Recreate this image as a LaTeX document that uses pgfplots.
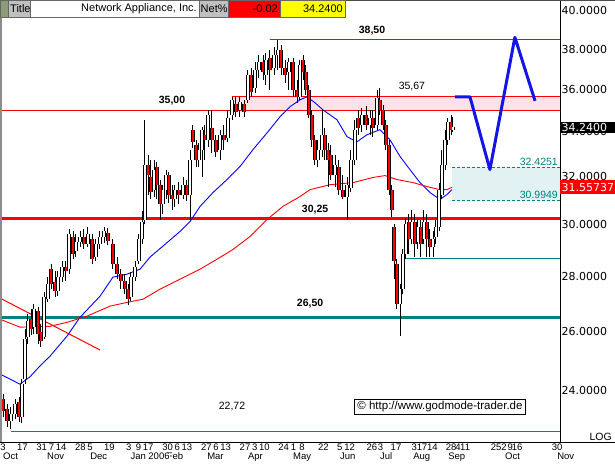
\documentclass[border=0pt]{standalone}
\usepackage{pgfplots}
\pgfplotsset{compat=1.18}
\usepackage{pgfplotstable}
\usepackage{fontspec}
\setmainfont{Liberation Sans}
\newfontfamily\dejavu{DejaVu Sans}
\definecolor{teal2}{RGB}{0,128,128}
\definecolor{pinkband}{RGB}{255,226,232}
\definecolor{cyanband}{RGB}{226,242,242}
\definecolor{projblue}{RGB}{20,20,230}
\definecolor{olivebox}{RGB}{140,156,116}
\definecolor{graybox}{RGB}{192,192,192}
\definecolor{yellowbox}{RGB}{255,255,0}

\pgfplotstableread{
d o h l c
0.0 23.74 23.90 23.17 23.37
2.1 23.43 23.58 22.87 23.05
4.1 23.05 23.49 22.81 23.27
6.2 23.27 23.74 23.11 23.58
8.3 23.64 23.80 23.02 23.17
9.8 23.17 24.39 22.99 24.22
11.4 24.39 26.08 24.22 25.73
12.9 25.80 26.61 25.56 26.36
14.5 26.43 26.79 25.87 26.08
16.0 26.15 26.97 25.90 26.79
18.1 26.72 26.86 25.56 25.90
19.6 25.98 26.25 25.46 25.66
21.2 25.80 27.41 25.73 27.22
23.2 27.15 27.97 27.04 27.70
24.8 28.27 28.46 27.52 27.70
26.9 27.78 28.19 27.22 27.45
28.4 27.45 28.19 27.26 27.97
30.5 27.97 28.57 27.78 28.35
32.5 28.35 28.57 27.82 28.19
34.1 28.27 29.82 28.08 29.62
36.2 29.51 29.74 28.65 28.84
37.7 28.95 29.62 28.73 29.31
39.8 29.31 29.74 29.11 29.51
41.8 29.51 29.82 29.03 29.23
43.9 29.23 29.90 29.11 29.62
46.0 29.43 29.62 28.46 28.65
48.0 28.73 29.43 28.57 29.23
50.1 29.23 29.74 29.03 29.51
52.2 29.51 29.90 29.27 29.74
54.2 29.66 29.86 29.19 29.35
56.8 29.23 29.43 28.27 28.46
58.9 28.46 28.73 27.89 28.08
60.9 28.08 28.27 27.52 27.82
63.0 27.82 28.08 27.33 27.52
64.6 27.52 27.70 26.93 27.15
66.1 27.22 28.16 27.08 27.97
68.2 27.97 28.57 27.82 28.35
70.2 28.57 29.62 28.46 29.43
71.8 29.43 30.55 29.23 30.14
73.3 30.22 34.56 30.02 32.54
74.9 32.54 32.98 31.25 32.10
76.4 31.98 32.76 31.05 31.38
78.0 31.46 32.76 31.17 32.32
79.5 32.41 32.67 31.05 31.67
81.1 31.67 31.89 30.22 30.84
82.6 30.84 31.67 30.43 31.46
84.2 31.46 32.32 31.05 32.10
85.7 32.10 32.23 30.92 31.25
87.3 31.25 31.67 30.63 31.05
88.8 31.05 31.67 30.72 31.46
90.9 31.46 31.80 30.84 31.25
93.0 31.25 31.98 31.05 31.67
95.0 31.67 31.89 30.97 31.25
96.6 31.25 33.20 30.22 32.76
98.1 34.10 34.33 33.29 33.55
99.7 33.42 33.64 32.45 32.76
101.2 32.76 33.51 32.45 33.20
102.8 33.20 34.24 32.02 34.10
104.3 33.87 34.33 32.76 33.64
105.9 33.64 35.02 33.33 34.79
107.9 34.19 35.02 33.07 33.64
110.0 33.64 33.87 32.85 33.11
112.1 33.20 34.10 32.76 33.87
114.1 33.87 34.33 33.20 33.64
116.2 33.73 35.02 33.55 34.65
118.3 34.79 35.64 34.56 35.50
120.3 35.31 35.64 34.70 34.93
122.4 35.02 35.64 34.70 35.40
124.5 35.31 35.50 34.70 34.93
126.5 35.50 36.95 35.36 36.70
128.1 36.70 37.05 35.64 35.88
130.2 36.08 37.35 35.84 36.95
132.2 36.95 37.71 36.56 37.35
134.3 37.35 37.71 36.46 36.85
135.8 36.70 37.81 36.22 37.45
137.9 37.55 37.96 35.98 36.95
140.0 37.05 38.12 36.70 37.71
142.0 37.71 38.50 36.95 37.96
143.6 37.96 38.22 36.70 37.05
145.7 37.05 37.45 36.32 36.70
147.7 36.85 37.55 35.98 37.35
149.8 37.35 37.55 35.64 35.98
151.9 35.98 36.46 35.36 35.64
153.4 35.64 37.45 35.50 37.20
155.0 37.45 37.71 36.46 36.85
156.5 36.85 37.20 35.74 35.98
158.0 35.98 36.22 34.65 34.79
159.6 34.79 35.02 33.33 33.64
161.1 33.64 33.87 32.54 32.76
162.7 32.76 33.64 32.41 33.20
164.8 33.20 35.02 32.85 33.87
166.3 33.87 34.19 32.76 33.20
167.9 33.20 33.51 31.59 32.76
169.4 32.98 33.42 31.89 32.10
171.5 32.10 32.98 31.59 32.54
173.5 32.41 32.76 31.25 31.46
175.6 31.46 32.10 31.05 31.17
177.7 31.17 31.98 30.22 31.67
179.7 31.55 33.20 31.38 32.76
181.8 32.76 34.56 32.54 34.10
183.4 34.65 35.02 33.87 34.19
185.4 34.33 35.12 34.01 34.79
187.5 34.79 35.21 34.10 34.33
189.6 34.33 35.02 33.87 34.65
191.1 34.65 35.02 33.78 34.19
193.2 34.33 35.98 34.10 35.60
194.7 35.50 36.08 34.79 35.02
196.3 35.02 35.26 34.10 34.33
197.8 34.33 34.56 33.20 33.42
199.4 33.42 33.64 31.25 31.46
200.9 31.46 31.67 30.34 30.63
202.0 29.90 30.02 27.89 28.57
203.5 28.46 28.65 26.79 26.97
205.1 26.97 27.70 25.84 27.52
206.6 27.52 29.03 27.33 28.84
208.1 28.84 30.30 28.65 30.02
209.7 30.14 30.43 28.84 29.43
211.2 29.43 30.63 29.23 30.14
212.8 30.14 30.43 28.73 29.23
214.3 29.31 30.22 29.03 29.90
215.9 29.90 30.22 28.73 29.23
217.4 29.43 30.63 29.23 30.14
219.0 30.14 30.43 28.73 29.43
220.5 29.43 29.82 28.73 29.11
222.1 29.11 29.74 28.73 29.43
223.6 29.51 30.22 29.23 29.90
225.2 29.90 31.76 29.74 31.46
226.7 31.25 33.20 31.05 32.54
228.3 32.54 34.10 32.32 33.64
229.8 33.64 34.65 33.42 34.47
231.4 34.47 34.79 33.87 34.10
232.4 34.10 34.70 34.01 34.24
}\candles

\pgfplotsset{candlepart/.style={only marks, mark size=0pt, mark options={draw=none, fill=none}}}

\begin{document}
\begin{tikzpicture}[x=1pt,y=1pt]
\path[use as bounding box] (0,-22) rectangle (615,442);
\begin{axis}[
  at={(0,0)}, anchor=south west,
  scale only axis, width=560pt, height=441pt,
  xmin=-1.55, xmax=287.7, ymin=22.41, ymax=40.54,
  ymode=log,
  axis line style={draw=none},
  major tick length=0pt,
  clip mode=individual,
  ytick={24,26,28,30,32,34,36,38,40},
  yticklabels={24.0000,26.0000,28.0000,30.0000,32.0000,34.0000,36.0000,38.0000,40.0000},
  yticklabel pos=right,
  yticklabel style={anchor=west, inner sep=0pt, xshift=1.5pt, font=\dejavu\fontsize{11}{13}\selectfont},
  xtick={0,10,20,25,30,40,45,55,65,70,75,85,90,95,105,110,115,125,130,135,145,150,154.5,165.5,174,179,190.5,195,203,213.8,217.7,221.8,231.5,235,238.7,254.7,258.8,262,265.6,286.2},
  xticklabels={3,17,31,7,14,28,5,19,3,9,17,30,6,13,27,6,13,27,3,10,24,1,8,22,5,12,26,3,17,31,7,14,28,4,11,25,2,9,16,30},
  xticklabel style={anchor=base, inner sep=0pt, yshift=-9pt, font=\fontsize{9.5}{11}\selectfont},
  /pgf/number format/assume math mode=true,
]
% bands
\addplot[draw=none, fill=pinkband, forget plot] coordinates {(118.3,35.00) (287.7,35.00) (287.7,35.67) (118.3,35.67)} -- cycle;
\addplot[draw=none, fill=cyanband, forget plot] coordinates {(231.9,30.9949) (287.7,30.9949) (287.7,32.4251) (231.9,32.4251)} -- cycle;
% horizontal levels
\addplot[red, line width=1pt] coordinates {(137.9,38.50) (287.7,38.50)};
\addplot[red, line width=1pt] coordinates {(118.3,35.67) (287.7,35.67)};
\addplot[red, line width=1.3pt] coordinates {(-1.55,35.00) (287.7,35.00)};
\addplot[red, line width=2.6pt] coordinates {(-1.55,30.25) (287.7,30.25)};
\addplot[teal2, line width=2.6pt] coordinates {(-1.55,26.50) (287.7,26.50)};
\addplot[teal2, line width=1pt] coordinates {(208.2,28.66) (287.7,28.66)};
\addplot[teal2, line width=1pt] coordinates {(4,22.72) (287.7,22.72)};
\addplot[teal2, line width=1pt, dash pattern=on 3pt off 2pt] coordinates {(231.9,32.4251) (287.7,32.4251)};
\addplot[teal2, line width=1pt, dash pattern=on 3pt off 2pt] coordinates {(231.9,30.9949) (287.7,30.9949)};
% trendline
\addplot[red, line width=1pt] coordinates {(-1.5,27.19) (50.1,25.36)};
% moving averages
\addplot[blue, line width=0.9pt] coordinates {
(-0.5,24.52) (8.8,24.22) (13.9,24.46) (19.1,24.82) (24.3,25.15) (33.1,25.84) (39.8,26.50)
(50.1,27.26) (56.8,27.97) (64.0,28.08) (70.8,28.27) (75.9,28.73) (83.7,29.23) (91.4,29.74)
(96.6,30.14) (101.8,30.76) (108.5,31.34) (115.7,31.89) (122.4,32.45) (129.1,33.20) (136.4,33.96)
(143.1,34.70) (148.2,35.17) (153.4,35.50) (157.0,35.64) (161.1,35.36) (165.3,35.02) (172.5,34.56)
(177.7,33.78) (182.8,33.55) (188.0,33.87) (194.7,34.10) (199.9,33.64) (205.1,32.89) (210.2,32.32)
(215.4,31.76) (220.5,31.34) (225.7,31.05) (229.3,31.25) (231.9,31.46)};
\addplot[red, line width=0.9pt] coordinates {
(-1.5,26.43) (8.8,26.15) (24.3,26.18) (33.1,26.32) (43.4,26.54) (55.3,26.90) (67.1,27.08)
(72.3,27.15) (81.1,27.52) (91.4,27.89) (101.8,28.27) (110.5,28.65) (118.8,29.03) (127.6,29.54)
(136.4,30.22) (144.6,30.76) (153.4,31.17) (158.6,31.46) (168.9,31.67) (180.8,31.76) (191.1,31.98)
(197.3,32.06) (203.5,31.89) (211.8,31.76) (219.0,31.59) (225.7,31.46) (229.3,31.46) (231.9,31.56)};
% candles: wicks
\addplot[candlepart, error bars/.cd, y dir=plus, y explicit, error mark=none,
  error bar style={black, line width=1pt}]
  table[x=d, y=l, y error expr={\thisrow{h}-\thisrow{l}}] {\candles};
% candle bodies outline
\addplot[candlepart, error bars/.cd, y dir=plus, y explicit, error mark=none,
  error bar style={black, line width=4.4pt}]
  table[x=d, y expr={min(\thisrow{o},\thisrow{c})}, y error expr={abs(\thisrow{c}-\thisrow{o})}] {\candles};
% up bodies
\addplot[candlepart, restrict expr to domain={\thisrow{c}-\thisrow{o}}{0:1000},
  error bars/.cd, y dir=plus, y explicit, error mark=none,
  error bar style={white, line width=2.4pt}]
  table[x=d, y=o, y error expr={\thisrow{c}-\thisrow{o}}] {\candles};
% down bodies
\addplot[candlepart, restrict expr to domain={\thisrow{o}-\thisrow{c}}{0.0001:1000},
  error bars/.cd, y dir=plus, y explicit, error mark=none,
  error bar style={red, line width=2.4pt}]
  table[x=d, y=c, y error expr={\thisrow{o}-\thisrow{c}}] {\candles};
% projection
\addplot[projblue, line width=3pt, line join=round] coordinates {(233.4,35.64) (241.2,35.64) (251.5,32.32) (264.4,38.61) (274.8,35.45)};
% annotations
\node[anchor=south, font=\bfseries\fontsize{10.5}{12}\selectfont, yshift=1pt] at (axis cs:190.6,38.50) {38,50};
\node[anchor=south, font=\bfseries\fontsize{10.5}{12}\selectfont, yshift=2pt] at (axis cs:87.3,35.00) {35,00};
\node[anchor=south, font=\fontsize{10.5}{12}\selectfont, yshift=1.5pt] at (axis cs:211.2,35.67) {35,67};
\node[anchor=south, font=\bfseries\fontsize{10.5}{12}\selectfont, yshift=1.5pt] at (axis cs:161.2,30.25) {30,25};
\node[anchor=south, font=\bfseries\fontsize{10.5}{12}\selectfont, yshift=6pt] at (axis cs:158.6,26.50) {26,50};
\node[font=\fontsize{10.5}{12}\selectfont] at (axis cs:118.3,23.49) {22,72};
\node[draw=black, fill=white, line width=0.8pt, font=\fontsize{11.5}{13}\selectfont, inner xsep=3pt, inner ysep=2.5pt] at (axis cs:225.7,23.49) {\textcopyright\ http://www.godmode-trader.de};
\node[anchor=south east, text=teal2, font=\fontsize{10.5}{12}\selectfont, inner sep=0pt, xshift=-2pt, yshift=1.5pt] at (axis cs:287.7,32.4251) {32.4251};
\node[anchor=south east, text=teal2, font=\fontsize{10.5}{12}\selectfont, inner sep=0pt, xshift=-2pt, yshift=1.5pt] at (axis cs:287.7,30.9949) {30.9949};
% month labels
\node[anchor=base west, inner sep=0pt, yshift=-18pt, font=\fontsize{9.5}{11}\selectfont] at (axis cs:0,22.41) {Oct};
\node[anchor=base west, inner sep=0pt, yshift=-18pt, font=\fontsize{9.5}{11}\selectfont] at (axis cs:22.7,22.41) {Nov};
\node[anchor=base west, inner sep=0pt, yshift=-18pt, font=\fontsize{9.5}{11}\selectfont] at (axis cs:45,22.41) {Dec};
\node[anchor=base west, inner sep=0pt, yshift=-18pt, font=\fontsize{9.5}{11}\selectfont] at (axis cs:84.5,22.41) {Feb};
\node[anchor=base west, inner sep=0.3pt, fill=white, yshift=-18pt, font=\fontsize{9.5}{11}\selectfont] at (axis cs:65.6,22.41) {Jan 2006};
\node[anchor=base west, inner sep=0pt, yshift=-18pt, font=\fontsize{9.5}{11}\selectfont] at (axis cs:105.4,22.41) {Mar};
\node[anchor=base west, inner sep=0pt, yshift=-18pt, font=\fontsize{9.5}{11}\selectfont] at (axis cs:126.5,22.41) {Apr};
\node[anchor=base west, inner sep=0pt, yshift=-18pt, font=\fontsize{9.5}{11}\selectfont] at (axis cs:149.8,22.41) {May};
\node[anchor=base west, inner sep=0pt, yshift=-18pt, font=\fontsize{9.5}{11}\selectfont] at (axis cs:174,22.41) {Jun};
\node[anchor=base west, inner sep=0pt, yshift=-18pt, font=\fontsize{9.5}{11}\selectfont] at (axis cs:194.7,22.41) {Jul};
\node[anchor=base west, inner sep=0pt, yshift=-18pt, font=\fontsize{9.5}{11}\selectfont] at (axis cs:211.8,22.41) {Aug};
\node[anchor=base west, inner sep=0pt, yshift=-18pt, font=\fontsize{9.5}{11}\selectfont] at (axis cs:229.9,22.41) {Sep};
\node[anchor=base west, inner sep=0pt, yshift=-18pt, font=\fontsize{9.5}{11}\selectfont] at (axis cs:259.3,22.41) {Oct};
\node[anchor=base west, inner sep=0pt, yshift=-18pt, font=\fontsize{9.5}{11}\selectfont] at (axis cs:286.2,22.41) {Nov};
\end{axis}
% frame
\draw[black, line width=1pt] (560,0) -- (560,442);
\draw[black, line width=1pt] (0,0) -- (615,0);
\draw[black!70, line width=1pt] (0,441.5) -- (615,441.5);
\draw[black!45, line width=1.5pt] (0.75,0) -- (0.75,442);
% right panel value boxes
\fill[black] (559.5,309) rectangle (614.5,320);
\node[anchor=west, text=white, inner sep=0pt, font=\dejavu\fontsize{11}{13}\selectfont] at (561.5,314.5) {34.2400};
\fill[red] (559.5,248) rectangle (615,262);
\node[anchor=west, text=white, inner sep=0pt, font=\dejavu\fontsize{11}{13}\selectfont] at (561.5,255) {31.55737};
\node[anchor=east, inner sep=0pt, font=\fontsize{10.5}{12}\selectfont] at (612,5.5) {LOG};
% title bar
\filldraw[fill=olivebox, draw=black!60, line width=0.6pt] (0,425) rectangle (8,442);
\filldraw[fill=graybox, draw=black!60, line width=0.6pt] (8,425) rectangle (30,442);
\filldraw[fill=white, draw=black!60, line width=0.6pt] (30,425) rectangle (199,442);
\filldraw[fill=graybox, draw=black!60, line width=0.6pt] (199,425) rectangle (228,442);
\filldraw[fill=red, draw=black!60, line width=0.6pt] (228,425) rectangle (280,442);
\filldraw[fill=yellowbox, draw=black!60, line width=0.6pt] (280,425) rectangle (345,442);
\node[anchor=west, inner sep=0pt, font=\fontsize{11}{13}\selectfont] at (10,433.5) {Title};
\node[anchor=east, inner sep=0pt, font=\fontsize{11}{13}\selectfont] at (197,433.5) {Network Appliance, Inc.};
\node[anchor=west, inner sep=0pt, font=\fontsize{11}{13}\selectfont] at (200.5,433.5) {Net\%};
\node[anchor=east, inner sep=0pt, font=\fontsize{11}{13}\selectfont] at (278,433.5) {-0.02};
\node[anchor=east, inner sep=0pt, font=\fontsize{11}{13}\selectfont] at (343,433.5) {34.2400};
\end{tikzpicture}
\end{document}
